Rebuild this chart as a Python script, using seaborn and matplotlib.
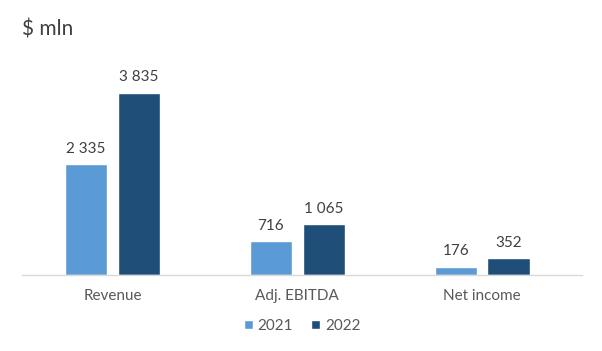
import numpy as np
import pandas as pd
import matplotlib
matplotlib.use("Agg")
import matplotlib.pyplot as plt
import seaborn as sns

categories = ["Revenue", "Adj. EBITDA", "Net income"]
years = ["2021", "2022"]
values_2021 = [2335, 716, 176]
values_2022 = [3835, 1065, 352]

df = pd.DataFrame({
    "metric": categories * 2,
    "year": [years[0]] * 3 + [years[1]] * 3,
    "value": values_2021 + values_2022,
})

sns.set_style("white")
plt.rcParams["font.family"] = ["Lato", "DejaVu Sans"]

fig = plt.figure(figsize=(6.02, 3.51), dpi=100)
ax = fig.add_axes([22 / 602, 76 / 351, 560 / 602, 215 / 351])

sns.barplot(data=df, x="metric", y="value", hue="year", order=categories,
            hue_order=years, palette=["#5B9BD5", "#1F4E79"], saturation=1,
            width=0.573, gap=0.2, ax=ax, legend=True)

for cont in ax.containers:
    ax.bar_label(cont, labels=[f"{v:,.0f}".replace(",", " ") for v in cont.datavalues],
                 padding=6, fontsize=11, color="#404040")

ax.set_xlim(-0.49, 2.54)
ax.set_ylim(0, 4526)
ax.set_xlabel("")
ax.set_ylabel("")
ax.set_yticks([])
ax.tick_params(axis="x", length=0, pad=10, labelsize=11, labelcolor="#595959")
for s in ["top", "right", "left"]:
    ax.spines[s].set_visible(False)
ax.spines["bottom"].set_color("#D9D9D9")
ax.spines["bottom"].set_linewidth(1)

ax.legend(loc="center", bbox_to_anchor=(302 / 602, 1 - 326 / 351),
          bbox_transform=fig.transFigure, ncol=2, frameon=False,
          fontsize=11, handlelength=0.6, handleheight=0.6,
          handletextpad=0.3, columnspacing=1.2, labelcolor="#595959")

fig.text(22 / 602, 1 - 30 / 351, "$ mln", fontsize=15, color="#404040", va="center")

fig.savefig("out.png", dpi=100)
